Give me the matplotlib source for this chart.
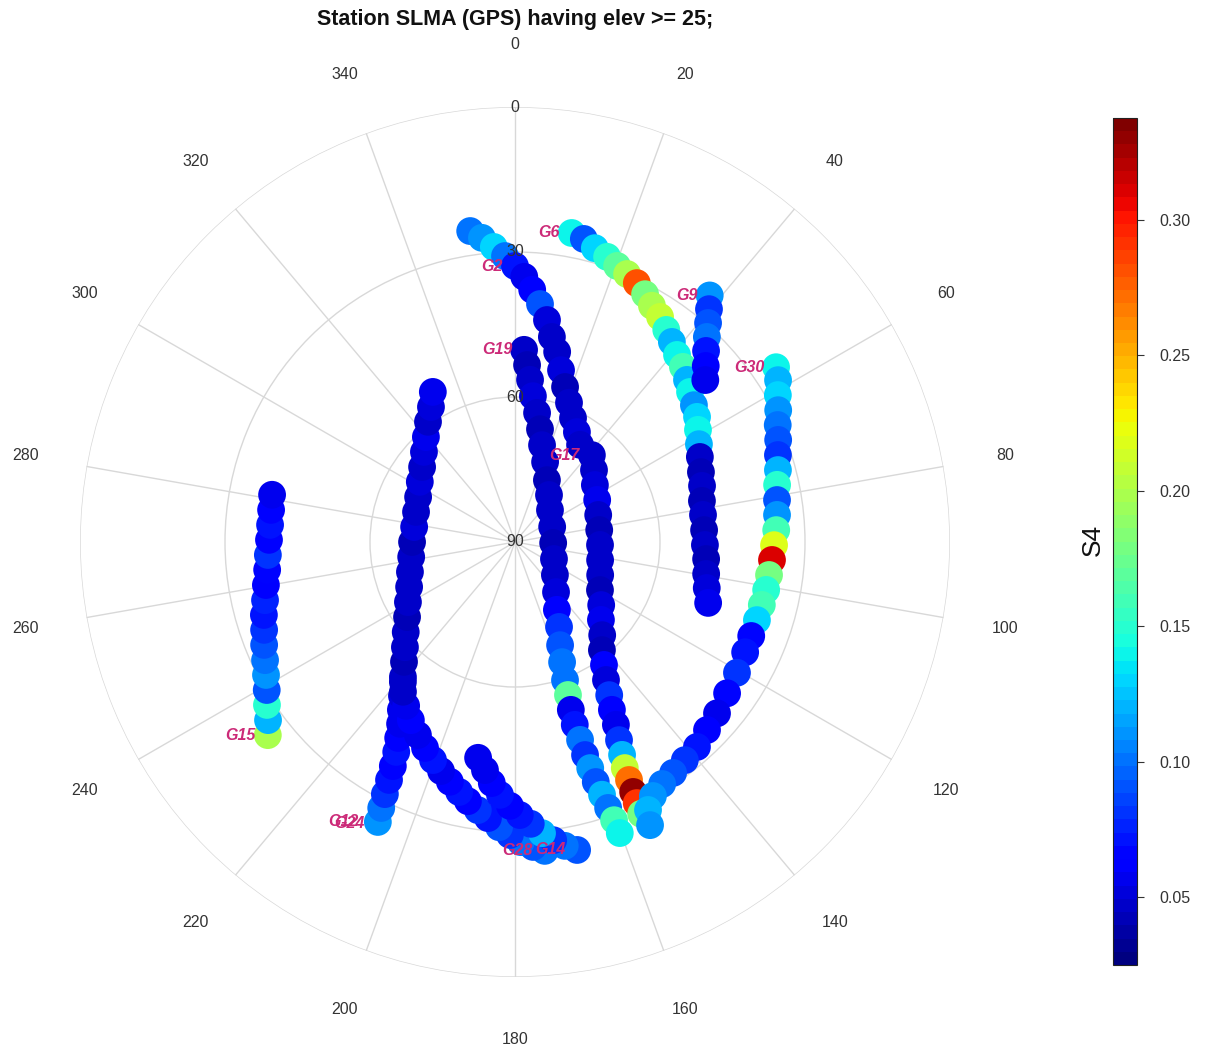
import numpy as np
import matplotlib
matplotlib.use("Agg")
import matplotlib.pyplot as plt
from matplotlib.colors import Normalize

plt.rcParams['font.family'] = ['Liberation Sans', 'DejaVu Sans']

# ---------------- data (azimuth deg, elevation deg, S4) ----------------
g6_az = [10.4, 12.8, 15.2, 17.9, 20.3, 22.7, 25.2, 27.7, 30.1, 32.8, 35.5, 38.1, 40.9, 43.8, 46.7, 49.4,
         52.6, 55.5, 58.5, 62.0, 65.3, 69.4, 73.3, 77.6, 81.8, 86.4, 90.9, 95.1, 99.5, 103.5, 107.5]
g6_el = [25.0, 25.7, 27.0, 28.0, 29.1, 29.9, 30.8, 32.1, 33.5, 34.6, 36.1, 37.4, 38.8, 39.8, 41.1, 42.3,
         43.4, 44.3, 45.6, 46.9, 47.9, 48.9, 49.6, 50.4, 50.7, 50.8, 50.7, 50.3, 49.9, 49.2, 48.1]
g6_s4 = [0.14, 0.09, 0.13, 0.15, 0.17, 0.20, 0.28, 0.18, 0.20, 0.21, 0.15, 0.12, 0.14, 0.16, 0.12, 0.14,
         0.11, 0.13, 0.14, 0.12, 0.045, 0.043, 0.048, 0.041, 0.045, 0.043, 0.047, 0.042, 0.046, 0.051, 0.057]

g9_az = [38.3, 39.8, 41.4, 43.1, 45.0, 47.3, 49.6]
g9_el = [25.0, 27.3, 29.6, 31.9, 34.1, 36.3, 38.3]
g9_s4 = [0.11, 0.08, 0.09, 0.10, 0.07, 0.06, 0.055]

g30_az = [56.2, 58.4, 60.8, 63.4, 66.0, 68.8, 71.7, 74.7, 77.7, 80.9, 84.1, 87.4, 90.7, 94.0, 97.4, 100.8,
          104.3, 107.9, 111.7, 115.6, 120.5, 125.5, 130.3, 134.4, 138.4, 142.1, 145.6, 148.7, 151.5, 153.6, 154.5]
g30_el = [25.0, 26.1, 27.7, 29.1, 30.5, 31.6, 32.7, 33.6, 34.5, 35.1, 35.5, 35.9, 36.4, 36.7, 37.0, 37.1,
          37.3, 37.4, 37.4, 37.2, 36.7, 36.1, 35.2, 34.4, 33.3, 32.8, 32.1, 31.4, 30.2, 28.1, 25.1]
g30_s4 = [0.14, 0.12, 0.13, 0.11, 0.10, 0.09, 0.08, 0.12, 0.15, 0.09, 0.11, 0.16, 0.22, 0.31, 0.18, 0.15,
          0.16, 0.13, 0.065, 0.07, 0.08, 0.065, 0.055, 0.06, 0.07, 0.08, 0.09, 0.10, 0.11, 0.12, 0.11]

g19_az = [2.7, 3.9, 5.3, 7.0, 9.7, 12.5, 15.6, 20.6, 27.3, 35.9, 47.6, 67.9, 91.5, 113.6, 129.5, 140.7,
          148.3, 152.6, 156.4, 158.6, 160.1, 160.9, 161.6, 161.9, 161.8, 161.8, 161.6, 161.4, 161.0, 160.7, 160.4, 160.2]
g19_el = [50.2, 53.3, 56.3, 59.6, 62.9, 66.1, 69.2, 72.3, 75.6, 78.0, 80.2, 81.7, 82.1, 81.2, 79.3, 76.6,
          73.5, 70.2, 66.7, 63.3, 59.6, 56.5, 53.4, 50.2, 46.9, 43.6, 40.7, 37.6, 34.7, 31.7, 28.9, 26.0]
g19_s4 = [0.046, 0.044, 0.048, 0.051, 0.046, 0.044, 0.049, 0.046, 0.043, 0.047, 0.045, 0.048, 0.044, 0.046,
          0.049, 0.052, 0.06, 0.08, 0.09, 0.10, 0.10, 0.17, 0.058, 0.07, 0.10, 0.08, 0.11, 0.09, 0.12, 0.10, 0.16, 0.14]

g17_az = [41.5, 47.7, 54.5, 62.9, 72.0, 81.9, 92.0, 102.0, 111.2, 119.5, 126.2, 132.2, 136.9, 141.2, 144.1,
          146.6, 148.4, 150.0, 151.1, 152.3, 153.3, 154.1, 154.4, 154.7, 155.0, 155.1]
g17_el = [66.0, 67.9, 69.7, 70.9, 71.9, 72.4, 72.4, 72.0, 71.1, 69.8, 67.9, 66.0, 63.6, 61.3, 58.6,
          55.8, 52.8, 49.9, 46.8, 43.7, 40.7, 38.0, 35.4, 32.8, 30.4, 28.0]
g17_s4 = [0.048, 0.046, 0.051, 0.056, 0.046, 0.044, 0.048, 0.045, 0.047, 0.043, 0.051, 0.058, 0.046, 0.044,
          0.06, 0.051, 0.08, 0.06, 0.055, 0.08, 0.12, 0.21, 0.27, 0.33, 0.29, 0.18]

g2_az = [351.8, 353.8, 355.9, 358.0, 0.0, 2.0, 3.9, 6.0, 8.2, 10.2, 12.5, 15.0, 17.9, 21.2, 25.1, 29.4, 33.8]
g2_el = [25.0, 26.7, 28.8, 30.8, 32.9, 35.1, 37.7, 40.5, 43.6, 46.9, 49.7, 53.2, 56.3, 59.1, 61.7, 63.9, 65.8]
g2_s4 = [0.10, 0.11, 0.13, 0.10, 0.07, 0.055, 0.06, 0.09, 0.051, 0.048, 0.046, 0.051, 0.044, 0.048, 0.046,
         0.050, 0.047]

g15_az = [232.0, 234.2, 236.7, 239.2, 241.9, 244.7, 247.7, 250.7, 253.8, 256.9, 260.2, 263.6, 267.0, 270.5,
          274.0, 277.5, 281.0]
g15_el = [25.1, 27.0, 28.6, 30.2, 31.6, 32.8, 33.9, 35.0, 35.9, 36.9, 37.7, 38.4, 38.8, 39.1, 39.2, 39.1, 38.8]
g15_s4 = [0.20, 0.12, 0.15, 0.09, 0.11, 0.10, 0.09, 0.08, 0.07, 0.075, 0.06, 0.065, 0.08, 0.06, 0.07, 0.06, 0.055]

g28_az = [174.5, 176.6, 178.9, 181.0, 183.2, 185.6, 187.9, 190.3, 192.6, 195.2, 197.9, 200.6, 203.6, 206.7,
          210.3, 213.6, 216.8, 219.7, 222.8, 226.3, 230.5, 235.2, 240.7, 247.0, 254.1, 261.8, 270.0, 278.5,
          286.9, 294.9, 302.3, 308.9, 314.7, 319.7, 324.1, 328.1, 331.3]
g28_el = [25.8, 26.8, 27.9, 29.4, 30.9, 32.6, 34.0, 35.5, 37.0, 38.6, 40.2, 41.8, 43.5, 45.3, 47.3, 49.3,
          51.3, 53.7, 56.2, 58.5, 60.7, 62.8, 64.6, 66.2, 67.4, 68.3, 68.7, 68.9, 68.6, 67.9, 66.7, 65.3,
          63.5, 61.5, 59.3, 57.1, 54.6]
g28_s4 = [0.10, 0.09, 0.10, 0.08, 0.09, 0.07, 0.08, 0.06, 0.07, 0.06, 0.055, 0.07, 0.06, 0.055, 0.06, 0.055,
          0.048, 0.046, 0.044, 0.048, 0.046, 0.043, 0.047, 0.045, 0.049, 0.046, 0.044, 0.051, 0.046, 0.048,
          0.054, 0.046, 0.050, 0.056, 0.048, 0.051, 0.058]

g12_az = [206.1, 206.7, 207.3, 207.9, 208.6, 209.5, 210.8, 212.3, 214.2, 216.3, 218.7]
g12_el = [25.5, 28.4, 31.3, 34.3, 37.2, 40.1, 42.8, 45.5, 48.0, 50.5, 52.9]
g12_s4 = [0.11, 0.10, 0.08, 0.07, 0.06, 0.07, 0.06, 0.058, 0.055, 0.05, 0.048]

g14_az = [168.6, 170.7, 172.7, 174.7, 176.8, 179.0, 181.1, 183.4, 185.5, 187.5, 189.7]
g14_el = [25.0, 26.3, 27.8, 29.5, 31.6, 33.5, 35.4, 37.6, 39.9, 42.4, 44.7]
g14_s4 = [0.09, 0.10, 0.08, 0.12, 0.08, 0.07, 0.06, 0.07, 0.06, 0.058, 0.055]

# satellite name, arrays, index of the point carrying the label
satellites = [
    ("G15", g15_az, g15_el, g15_s4, 0),
    ("G12", g12_az, g12_el, g12_s4, 0),
    ("G28", g28_az, g28_el, g28_s4, 0),
    ("G14", g14_az, g14_el, g14_s4, 0),
    ("G2", g2_az, g2_el, g2_s4, 4),
    ("G19", g19_az, g19_el, g19_s4, 0),
    ("G17", g17_az, g17_el, g17_s4, 0),
    ("G6", g6_az, g6_el, g6_s4, 0),
    ("G9", g9_az, g9_el, g9_s4, 0),
    ("G30", g30_az, g30_el, g30_s4, 0),
]
extra_labels = [("G24", "G12")]  # second label drawn at the same start point

zenith_ticks = [0, 30, 60, 90]
azimuth_ticks = list(range(0, 360, 20))
cbar_ticks = [0.05, 0.10, 0.15, 0.20, 0.25, 0.30]
s4_min, s4_max = 0.025, 0.3376

# ---------------- figure ----------------
W, H = 1207, 1052
fig = plt.figure(figsize=(W / 100, H / 100), dpi=100)
fig.patch.set_facecolor('white')

ax = fig.add_axes([80 / W, 75 / H, 870 / W, 870 / H], projection='polar')
ax.set_theta_zero_location('N')
ax.set_theta_direction(-1)
ax.set_ylim(0, 90)
ax.set_thetagrids(azimuth_ticks, labels=[''] * len(azimuth_ticks))
ax.set_rgrids([30, 60, 90], labels=['', '', ''])
ax.grid(True, color='#d8d8d8', lw=1.0)
ax.spines['polar'].set_visible(False)
ax.tick_params(length=0)

cmap = plt.get_cmap('jet', 64)
norm = Normalize(vmin=s4_min, vmax=s4_max)

grid_col = '#333333'
for e in zenith_ticks:
    ax.text(0, 90 - e, str(e), ha='center', va='center', fontsize=11.5, color=grid_col, zorder=6)
for a in azimuth_ticks:
    ax.text(np.radians(a), 102.9, str(a), ha='center', va='center', fontsize=11.5,
            color=grid_col, clip_on=False)

sc = None
starts = {}
for name, az, el, s4, li in satellites:
    th = np.radians(np.asarray(az))
    rr = 90 - np.asarray(el)
    sc = ax.scatter(th, rr, c=s4, cmap=cmap, norm=norm, s=400, edgecolors='none', zorder=3)
    starts[name] = (th[li], rr[li])

label_col = '#cc2a78'
label_dx = {"G12": -19, "G24": -13}
for name, az, el, s4, li in satellites:
    th, rr = starts[name]
    ax.annotate(name, (th, rr), xytext=(label_dx.get(name, -12), 0), textcoords='offset pixels',
                ha='right', va='center', fontsize=11.5, fontweight='bold', fontstyle='italic',
                color=label_col, zorder=5, annotation_clip=False)
for name, ref in extra_labels:
    th, rr = starts[ref]
    ax.annotate(name, (th, rr), xytext=(label_dx.get(name, -12), -2), textcoords='offset pixels',
                ha='right', va='center', fontsize=11.5, fontweight='bold', fontstyle='italic',
                color=label_col, zorder=5, annotation_clip=False)

fig.text(515 / W, 1 - 20 / H, 'Station SLMA (GPS) having elev >= 25;', ha='center', va='center',
         fontsize=15.5, fontweight='bold', color='#111111')

cax = fig.add_axes([1113 / W, 87 / H, 24 / W, 847 / H])
cb = fig.colorbar(sc, cax=cax, ticks=cbar_ticks)
cb.ax.set_yticklabels(['%.2f' % t for t in cbar_ticks])
cb.ax.tick_params(length=5, width=0.8, pad=11, labelsize=11.5, colors='#333333')
cb.outline.set_linewidth(0.8)
cb.outline.set_edgecolor('#222222')
fig.text(1093 / W, 1 - 540 / H, 'S4', rotation=90, ha='center', va='center', fontsize=19, color='#111111')

fig.savefig('out.png', dpi=100, facecolor='white')
